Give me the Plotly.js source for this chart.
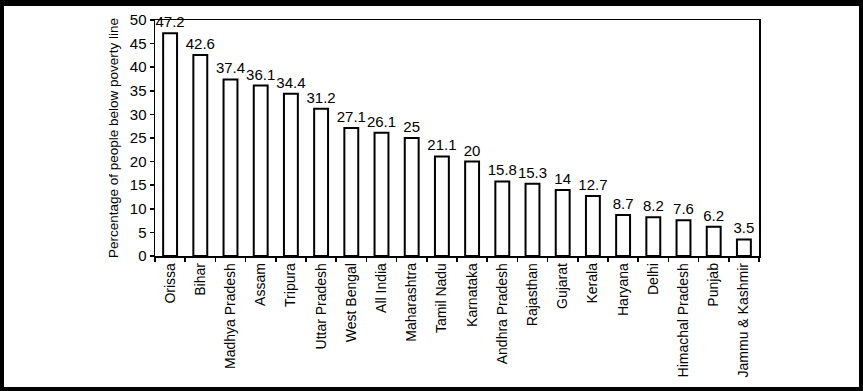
<!DOCTYPE html>
<html>
<head>
<meta charset="utf-8">
<script src="https://cdn.plot.ly/plotly-3.0.1.min.js"></script>
<style>
  html, body { margin: 0; padding: 0; background: #fff; }
  #wrap { position: relative; width: 863px; height: 391px; }
  #chart { position: absolute; left: 0; top: 0; width: 863px; height: 391px; }
  #frame { position: absolute; left: 0; top: 0; width: 863px; height: 391px; box-sizing: border-box;
           border-style: solid; border-color: #000; border-width: 6px 4px 4px 4px; pointer-events: none; }
</style>
</head>
<body>
<div id="wrap">
  <div id="chart"></div>
  <div id="frame"></div>
</div>
<script>
const states = ["Orissa", "Bihar", "Madhya Pradesh", "Assam", "Tripura", "Uttar Pradesh", "West Bengal",
  "All India", "Maharashtra", "Tamil Nadu", "Karnataka", "Andhra Pradesh", "Rajasthan", "Gujarat",
  "Kerala", "Haryana", "Delhi", "Himachal Pradesh", "Punjab", "Jammu & Kashmir"];
const povertyPct = [47.2, 42.6, 37.4, 36.1, 34.4, 31.2, 27.1, 26.1, 25, 21.1, 20, 15.8, 15.3, 14,
  12.7, 8.7, 8.2, 7.6, 6.2, 3.5];
const yTicks = [0, 5, 10, 15, 20, 25, 30, 35, 40, 45, 50];

const trace = {
  type: "bar",
  x: states,
  y: povertyPct,
  text: povertyPct.map(v => String(v)),
  textposition: "outside",
  constraintext: "none",
  cliponaxis: false,
  textfont: { family: "Liberation Sans, Arial, sans-serif", size: 15, color: "#000" },
  outsidetextfont: { family: "Liberation Sans, Arial, sans-serif", size: 15, color: "#000" },
  marker: { color: "#fff", line: { color: "#000", width: 2 } },
  hoverinfo: "x+y"
};

const layout = {
  width: 863, height: 391,
  margin: { l: 155, r: 104, t: 20, b: 135 },
  paper_bgcolor: "#fff", plot_bgcolor: "#fff",
  bargap: 0.54,
  showlegend: false,
  font: { family: "Liberation Sans, Arial, sans-serif", color: "#000" },
  xaxis: {
    type: "category",
    tickangle: -90,
    tickfont: { size: 14, color: "#000" },
    showline: true, linecolor: "#000", linewidth: 1.5, mirror: true,
    ticks: "outside", ticklen: 4, tickwidth: 1.5, tickcolor: "#000",
    tickson: "boundaries",
    showgrid: false, zeroline: false
  },
  yaxis: {
    range: [0, 50],
    tickvals: yTicks,
    tickfont: { size: 15, color: "#000" },
    showline: true, linecolor: "#000", linewidth: 1.5, mirror: true,
    ticks: "outside", ticklen: 4, tickwidth: 1.5, tickcolor: "#000",
    showgrid: false, zeroline: false,
    title: { text: "Percentage of people below poverty line", font: { size: 13.5, color: "#000" }, standoff: 8 }
  }
};

Plotly.newPlot("chart", [trace], layout, { staticPlot: true, displayModeBar: false });
</script>
</body>
</html>
